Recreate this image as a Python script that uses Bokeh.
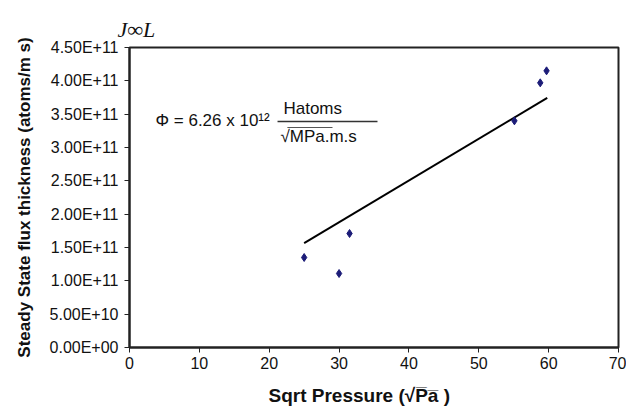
from bokeh.plotting import figure
from bokeh.models import FixedTicker, Label, Title
from bokeh.core.properties import value
from bokeh.embed import file_html
from bokeh.resources import INLINE

# ---- data ----
sqrt_pressure = [25.0, 30.0, 31.5, 55.1, 58.8, 59.7]
flux = [1.35e11, 1.11e11, 1.71e11, 3.40e11, 3.97e11, 4.15e11]
trend_slope = 6.26e9          # fit through origin
trend_x = [25.0, 59.8]
trend_y = [trend_slope * v for v in trend_x]

x_ticks = [0, 10, 20, 30, 40, 50, 60, 70]
y_ticks = [0, 0.5e11, 1.0e11, 1.5e11, 2.0e11, 2.5e11, 3.0e11, 3.5e11, 4.0e11, 4.5e11]
y_tick_labels = ["0.00E+00", "5.00E+10", "1.00E+11", "1.50E+11", "2.00E+11",
                 "2.50E+11", "3.00E+11", "3.50E+11", "4.00E+11", "4.50E+11"]

SANS = "Liberation Sans"
SERIF = "Liberation Serif"
INK = "#111111"

p = figure(width=626, height=416, x_range=(0, 70), y_range=(0, 4.5e11),
           output_backend="svg", toolbar_location=None,
           min_border_left=129, min_border_right=8, min_border_top=47, min_border_bottom=69)
p.grid.visible = False
p.background_fill_color = "white"
p.border_fill_color = "white"
p.outline_line_color = "#222222"
p.outline_line_width = 2

for ax in (p.xaxis[0], p.yaxis[0]):
    ax.axis_line_color = "#222222"
    ax.axis_line_width = 2
    ax.major_tick_in = 0
    ax.major_tick_out = 5
    ax.major_tick_line_color = "#222222"
    ax.major_tick_line_width = 1
    ax.minor_tick_line_color = None
    ax.major_label_text_font = SANS
    ax.major_label_text_font_size = "16px"
    ax.major_label_text_color = INK

p.xaxis.ticker = FixedTicker(ticks=x_ticks)
p.xaxis.major_label_standoff = 4
p.yaxis.ticker = FixedTicker(ticks=y_ticks)
p.yaxis.major_label_overrides = {t: l for t, l in zip(y_ticks, y_tick_labels)}
p.yaxis.major_label_standoff = 6

p.yaxis.axis_label = "Steady State flux thickness (atoms/m s)"
p.yaxis.axis_label_text_font = SANS
p.yaxis.axis_label_text_font_style = "bold"
p.yaxis.axis_label_text_font_size = "17px"
p.yaxis.axis_label_text_color = INK
p.yaxis.axis_label_standoff = 13

# x axis title (as a title below the axis, so it can be offset)
xt = Title(text="Sqrt Pressure (√P\u0305a\u0305 )", align="left", offset=139,
           text_font=SANS, text_font_style="bold", text_font_size="19px",
           text_color=INK, standoff=22)
p.add_layout(xt, "below")

# J∞L above the plot
jt = Title(text="J∞L", align="left", offset=-12, text_font=SERIF,
           text_font_style="italic", text_font_size="22px", text_color=INK, standoff=12)
p.add_layout(jt, "above")

# trend line and data
p.line(trend_x, trend_y, line_color="black", line_width=2)
p.scatter(sqrt_pressure, flux, marker="diamond", size=8, fill_color="#1c1c78",
          line_color="#1c1c78")

# equation annotation
p.add_layout(Label(x=3.72, y=3.405e11, text="Φ = 6.26 x 10¹²", text_font=SANS,
                   text_baseline="alphabetic", text_font_size="17px", text_color=INK))
p.add_layout(Label(x=22.04, y=3.585e11, text="Hatoms", text_font=SANS,
                   text_baseline="alphabetic", text_font_size="17px", text_color=INK))
p.segment(x0=[21.19], y0=[3.39e11], x1=[35.5], y1=[3.39e11], line_color="#333333", line_width=1.5)
p.add_layout(Label(x=21.6, y=3.165e11, text="√MPa.m.s", text_font=SANS,
                   text_baseline="alphabetic", text_font_size="17px", text_color=INK))
p.segment(x0=[22.6], y0=[3.30e11], x1=[29.06], y1=[3.30e11], line_color="#555555", line_width=1)

open("out.html", "w").write(file_html(p, INLINE))
